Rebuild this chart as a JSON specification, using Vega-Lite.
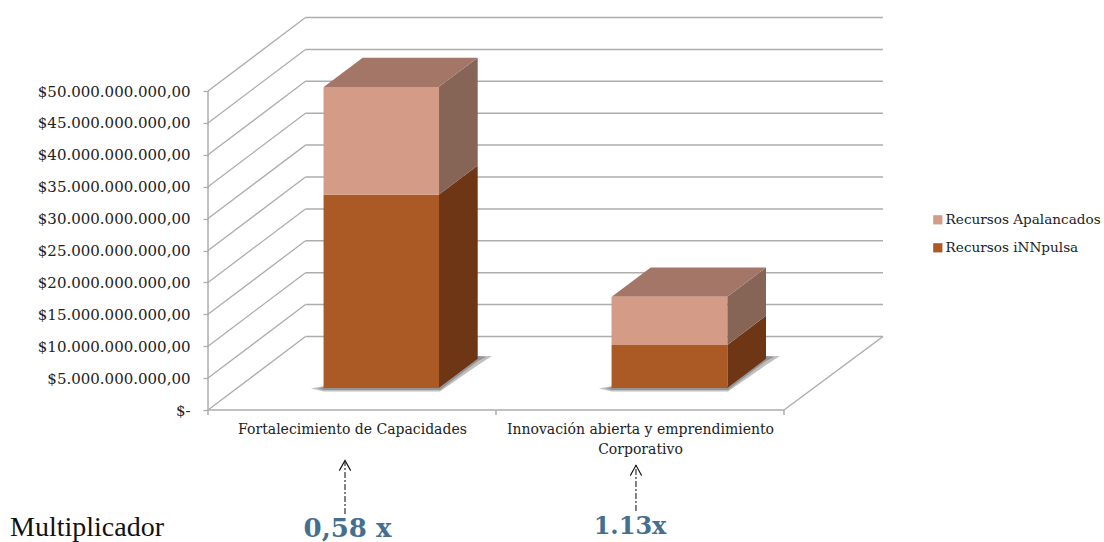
{"$schema":"https://vega.github.io/schema/vega-lite/v6.json","width":675,"height":393,"autosize":"none","padding":{"left":208,"top":17,"right":221,"bottom":132},"background":"white","config":{"view":{"stroke":null},"axis":{"grid":false},"text":{"font":"DejaVu Serif"}},
"datasets":{
"montos":[{"categoria":"Fortalecimiento de Capacidades","pos":0.5,"serie":"Recursos iNNpulsa","orden":1,"monto":30300000000},{"categoria":"Fortalecimiento de Capacidades","pos":0.5,"serie":"Recursos Apalancados","orden":2,"monto":16880000000},{"categoria":"Innovación abierta y emprendimiento Corporativo","pos":1.5,"serie":"Recursos iNNpulsa","orden":1,"monto":6740000000},{"categoria":"Innovación abierta y emprendimiento Corporativo","pos":1.5,"serie":"Recursos Apalancados","orden":2,"monto":7570000000}],
"rejilla":[{"v":0,"f":11520000000},{"v":5000000000,"f":16520000000},{"v":10000000000,"f":21520000000},{"v":15000000000,"f":26520000000},{"v":20000000000,"f":31520000000},{"v":25000000000,"f":36520000000},{"v":30000000000,"f":41520000000},{"v":35000000000,"f":46520000000},{"v":40000000000,"f":51520000000},{"v":45000000000,"f":56520000000},{"v":50000000000,"f":61520000000}],
"sombras":[
{"g":"a1","x":0.3576,"y":3.37e9,"y2":3.37e9},{"g":"a1","x":0.4028,"y":2.9e9,"y2":3.76e9},{"g":"a1","x":0.8056,"y":2.9e9,"y2":3.76e9},{"g":"a1","x":0.9375,"y":7.05e9,"y2":8.46e9},{"g":"a1","x":0.9861,"y":8.46e9,"y2":8.46e9},
{"g":"b1","x":0.3819,"y":3.37e9,"y2":3.37e9},{"g":"b1","x":0.4028,"y":3.13e9,"y2":3.6e9},{"g":"b1","x":0.8056,"y":3.13e9,"y2":3.76e9},{"g":"b1","x":0.9375,"y":7.68e9,"y2":8.46e9},{"g":"b1","x":0.9653,"y":8.31e9,"y2":8.31e9},
{"g":"a2","x":1.3576,"y":3.37e9,"y2":3.37e9},{"g":"a2","x":1.4028,"y":2.9e9,"y2":3.76e9},{"g":"a2","x":1.8056,"y":2.9e9,"y2":3.76e9},{"g":"a2","x":1.9375,"y":7.05e9,"y2":8.46e9},{"g":"a2","x":1.9861,"y":8.46e9,"y2":8.46e9},
{"g":"b2","x":1.3819,"y":3.37e9,"y2":3.37e9},{"g":"b2","x":1.4028,"y":3.13e9,"y2":3.6e9},{"g":"b2","x":1.8056,"y":3.13e9,"y2":3.76e9},{"g":"b2","x":1.9375,"y":7.68e9,"y2":8.46e9},{"g":"b2","x":1.9653,"y":8.31e9,"y2":8.31e9}],
"lateralInn":[{"g":"1","x":0.801,"y":3.448e9,"y2":33.75e9},{"g":"1","x":0.9365,"y":8.04e9,"y2":38.34e9},{"g":"2","x":1.8031,"y":3.448e9,"y2":10.19e9},{"g":"2","x":1.9375,"y":8.04e9,"y2":14.78e9}],
"lateralApa":[{"g":"1","x":0.801,"y":33.75e9,"y2":50.63e9},{"g":"1","x":0.9365,"y":38.34e9,"y2":55.22e9},{"g":"2","x":1.8031,"y":10.19e9,"y2":17.76e9},{"g":"2","x":1.9375,"y":14.78e9,"y2":22.35e9}],
"tapas":[{"g":"1","x":0.4017,"y":50.63e9,"y2":50.63e9},{"g":"1","x":0.5371,"y":50.63e9,"y2":55.22e9},{"g":"1","x":0.801,"y":50.63e9,"y2":55.22e9},{"g":"1","x":0.9365,"y":55.22e9,"y2":55.22e9},{"g":"2","x":1.4017,"y":17.76e9,"y2":17.76e9},{"g":"2","x":1.5371,"y":17.76e9,"y2":22.35e9},{"g":"2","x":1.8031,"y":17.76e9,"y2":22.35e9},{"g":"2","x":1.9375,"y":22.35e9,"y2":22.35e9}],
"flechas":[{"x":0.4757,"y":-16.3e9,"y2":-8.15e9,"punta":-8.7e9},{"x":1.486,"y":-15.83e9,"y2":-8.46e9,"punta":-9.48e9}]
},
"layer":[
{"data":{"name":"rejilla"},"mark":{"type":"rule","color":"#ADADAD","strokeWidth":1.5},"encoding":{"x":{"datum":0.3385,"type":"quantitative","scale":{"domain":[0,2.34375],"nice":false,"zero":false,"padding":0},"title":null},"x2":{"datum":2.34375},"y":{"field":"f","type":"quantitative","scale":{"domain":[0,61.6e9],"nice":false,"zero":false},"title":null}}},
{"data":{"name":"rejilla"},"mark":{"type":"rule","color":"#ADADAD","strokeWidth":1.3},"encoding":{"x":{"datum":0,"type":"quantitative","scale":{"domain":[0,2.34375],"nice":false,"zero":false,"padding":0},"title":null},"x2":{"datum":0.3385},"y":{"field":"v","type":"quantitative","scale":{"domain":[0,61.6e9],"nice":false,"zero":false},"title":null},"y2":{"field":"f"}}},
{"data":{"values":[{"a":0,"b":2,"c":0,"d":0},{"a":0,"b":0,"c":0,"d":50000000000},{"a":2,"b":2.34375,"c":0,"d":11520000000},{"a":1,"b":1,"c":0,"d":-800000000},{"a":2,"b":2,"c":0,"d":-800000000},{"a":0,"b":0,"c":0,"d":-800000000}]},"mark":{"type":"rule","color":"#ADADAD","strokeWidth":1.5},"encoding":{"x":{"field":"a","type":"quantitative","scale":{"domain":[0,2.34375],"nice":false,"zero":false,"padding":0},"title":null},"x2":{"field":"b"},"y":{"field":"c","type":"quantitative","scale":{"domain":[0,61.6e9],"nice":false,"zero":false},"title":null},"y2":{"field":"d"}}},
{"data":{"name":"sombras"},"mark":{"type":"area","color":"#3A3A3A","opacity":0.32},"encoding":{"detail":{"field":"g"},"x":{"field":"x","type":"quantitative","scale":{"domain":[0,2.34375],"nice":false,"zero":false,"padding":0},"title":null},"y":{"field":"y","type":"quantitative","scale":{"domain":[0,61.6e9],"nice":false,"zero":false},"title":null},"y2":{"field":"y2"}}},
{"data":{"name":"lateralInn"},"mark":{"type":"area","color":"#6E3615"},"encoding":{"detail":{"field":"g"},"x":{"field":"x","type":"quantitative","scale":{"domain":[0,2.34375],"nice":false,"zero":false,"padding":0},"title":null},"y":{"field":"y","type":"quantitative","scale":{"domain":[0,61.6e9],"nice":false,"zero":false},"title":null},"y2":{"field":"y2"}}},
{"data":{"name":"lateralApa"},"mark":{"type":"area","color":"#876556"},"encoding":{"detail":{"field":"g"},"x":{"field":"x","type":"quantitative","scale":{"domain":[0,2.34375],"nice":false,"zero":false,"padding":0},"title":null},"y":{"field":"y","type":"quantitative","scale":{"domain":[0,61.6e9],"nice":false,"zero":false},"title":null},"y2":{"field":"y2"}}},
{"data":{"name":"tapas"},"mark":{"type":"area","color":"#A37667"},"encoding":{"detail":{"field":"g"},"x":{"field":"x","type":"quantitative","scale":{"domain":[0,2.34375],"nice":false,"zero":false,"padding":0},"title":null},"y":{"field":"y","type":"quantitative","scale":{"domain":[0,61.6e9],"nice":false,"zero":false},"title":null},"y2":{"field":"y2"}}},
{"data":{"name":"montos"},"mark":{"type":"bar","orient":"vertical","size":115.5,"xOffset":29.3,"yOffset":-22,"y2Offset":-22},"encoding":{"x":{"field":"pos","type":"quantitative","title":null,"scale":{"domain":[0,2.34375],"nice":false,"zero":false,"padding":0},"axis":{"values":[0.5,1.5],"domain":false,"ticks":false,"labelFont":"DejaVu Serif","labelFontSize":14,"labelColor":"#222222","labelPadding":12.5,"labelLineHeight":19.5,"labelBaseline":"top","labelFlush":false,"labelOverlap":false,"labelLimit":400,"labelExpr":"datum.value < 1 ? 'Fortalecimiento de Capacidades' : ['Innovación abierta y emprendimiento','Corporativo']"}},"y":{"field":"monto","type":"quantitative","title":null,"stack":"zero","scale":{"domain":[0,61.6e9],"nice":false,"zero":false},"axis":{"domain":false,"tickCount":11,"values":[0,5000000000,10000000000,15000000000,20000000000,25000000000,30000000000,35000000000,40000000000,45000000000,50000000000],"tickColor":"#ADADAD","tickWidth":1.3,"tickSize":5,"labelPadding":13,"labelFont":"DejaVu Serif","labelFontSize":15,"labelColor":"#222222","labelLimit":300,"labelOverlap":false,"labelExpr":"datum.value == 0 ? '$-' : '$' + (datum.value/1000000000) + '.000.000.000,00'"}},"order":{"field":"orden"},"color":{"field":"serie","type":"nominal","scale":{"domain":["Recursos Apalancados","Recursos iNNpulsa"],"range":["#D49B86","#AC5A25"]},"legend":{"title":null,"orient":"none","legendX":723,"legendY":196,"padding":0,"symbolType":"square","symbolSize":85,"symbolStrokeWidth":0,"rowPadding":13,"labelFont":"DejaVu Serif","labelFontSize":13.6,"labelColor":"#222222","labelLimit":300,"labelOffset":1}}}},
{"data":{"name":"flechas"},"mark":{"type":"rule","color":"#333333","strokeWidth":1.2,"strokeDash":[6,2,2,2]},"encoding":{"x":{"field":"x","type":"quantitative","scale":{"domain":[0,2.34375],"nice":false,"zero":false,"padding":0},"title":null},"y":{"field":"y","type":"quantitative","scale":{"domain":[0,61.6e9],"nice":false,"zero":false},"title":null},"y2":{"field":"y2"}}},
{"data":{"name":"flechas"},"mark":{"type":"point","shape":"M-0.5,0.45L0,-0.45L0.5,0.45","color":"#111111","filled":false,"size":520,"strokeWidth":1.1,"opacity":1},"encoding":{"x":{"field":"x","type":"quantitative","scale":{"domain":[0,2.34375],"nice":false,"zero":false,"padding":0},"title":null},"y":{"field":"punta","type":"quantitative","scale":{"domain":[0,61.6e9],"nice":false,"zero":false},"title":null}}},
{"data":{"values":[{"t":"Multiplicador","x":-0.6875,"y":-19.75e9}]},"mark":{"type":"text","font":"Liberation Serif","fontSize":28,"align":"left","baseline":"alphabetic","color":"#111111"},"encoding":{"text":{"field":"t"},"x":{"field":"x","type":"quantitative","scale":{"domain":[0,2.34375],"nice":false,"zero":false,"padding":0},"title":null},"y":{"field":"y","type":"quantitative","scale":{"domain":[0,61.6e9],"nice":false,"zero":false},"title":null}}},
{"data":{"values":[{"t":"0,58 x","x":0.4844,"y":-19.9e9,"s":"a"}]},"mark":{"type":"text","font":"DejaVu Serif","fontWeight":"bold","fontSize":26,"align":"center","baseline":"alphabetic","color":"#466F8F"},"encoding":{"text":{"field":"t"},"x":{"field":"x","type":"quantitative","scale":{"domain":[0,2.34375],"nice":false,"zero":false,"padding":0},"title":null},"y":{"field":"y","type":"quantitative","scale":{"domain":[0,61.6e9],"nice":false,"zero":false},"title":null}}},
{"data":{"values":[{"t":"1.13x","x":1.4653,"y":-19.45e9}]},"mark":{"type":"text","font":"DejaVu Serif","fontWeight":"bold","fontSize":24,"align":"center","baseline":"alphabetic","color":"#466F8F"},"encoding":{"text":{"field":"t"},"x":{"field":"x","type":"quantitative","scale":{"domain":[0,2.34375],"nice":false,"zero":false,"padding":0},"title":null},"y":{"field":"y","type":"quantitative","scale":{"domain":[0,61.6e9],"nice":false,"zero":false},"title":null}}}
]}
